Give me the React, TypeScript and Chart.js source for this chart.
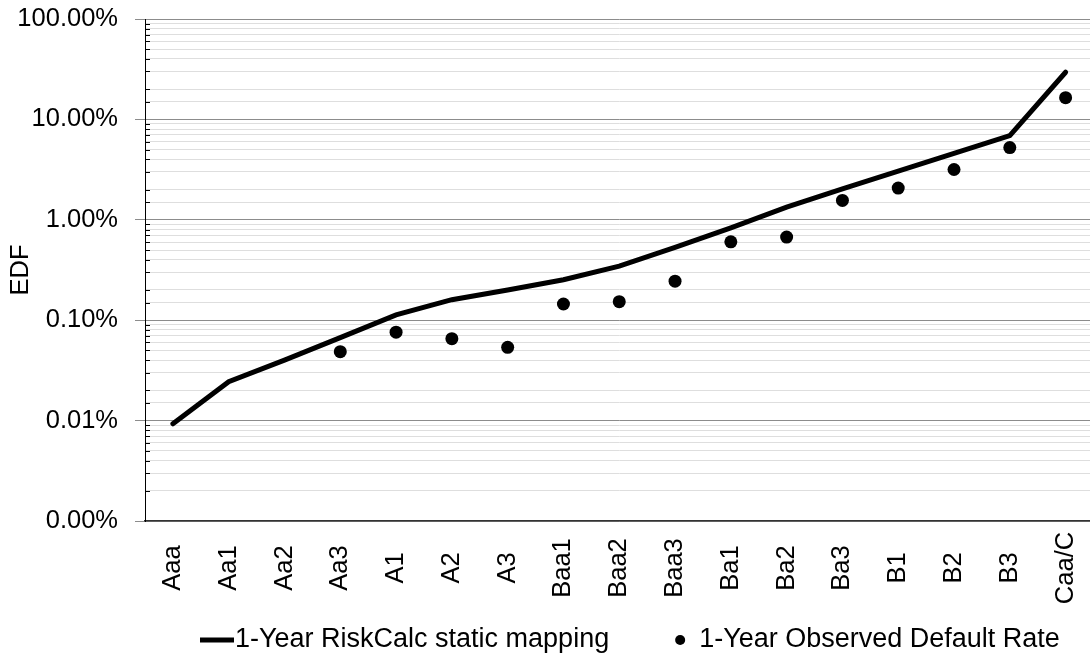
import React, { useEffect, useRef } from 'react';
import { Chart, registerables } from 'chart.js';

Chart.register(...registerables);

const categories = ['Aaa', 'Aa1', 'Aa2', 'Aa3', 'A1', 'A2', 'A3', 'Baa1', 'Baa2', 'Baa3', 'Ba1', 'Ba2', 'Ba3', 'B1', 'B2', 'B3', 'Caa/C'];
// values in percent
const staticMapping = [0.0093, 0.0244, 0.04, 0.067, 0.113, 0.16, 0.2, 0.253, 0.345, 0.53, 0.83, 1.34, 2.03, 3.05, 4.6, 6.9, 29.5];
const observedDefault = [null, null, null, 0.0486, 0.076, 0.0655, 0.0537, 0.145, 0.153, 0.245, 0.604, 0.673, 1.56, 2.07, 3.17, 5.24, 16.45];
const seriesNames = ['1-Year RiskCalc static mapping', '1-Year Observed Default Rate'];
const yTitle = 'EDF';
const yMin = 0.001;
const yMax = 100;

const FONT = "'Liberation Sans', Arial, sans-serif";
const FS = 25.5;

const isMajor = (v: number) => {
  if (v === undefined || v === null || v <= 0) return false;
  const l = Math.log10(v);
  return Math.abs(l - Math.round(l)) < 1e-6;
};

const decorPlugin = {
  id: 'decor',
  afterDraw(chart: any) {
    const { ctx, chartArea, scales } = chart;
    const xs = scales.x;
    const ys = scales.y;
    ctx.save();
    // minor tick marks inside the plot
    ctx.strokeStyle = '#000';
    ctx.lineWidth = 1;
    ys.ticks.forEach((t: any) => {
      if (!isMajor(t.value)) {
        const y = Math.round(ys.getPixelForValue(t.value)) + 0.5;
        ctx.beginPath();
        ctx.moveTo(chartArea.left, y);
        ctx.lineTo(chartArea.left + 5, y);
        ctx.stroke();
      }
    });
    // rotated category labels, centred
    ctx.fillStyle = '#000';
    ctx.font = `${FS}px ${FONT}`;
    ctx.textAlign = 'center';
    ctx.textBaseline = 'middle';
    categories.forEach((c, i) => {
      const x = xs.getPixelForValue(i);
      ctx.save();
      ctx.translate(x, chartArea.bottom + 47);
      ctx.rotate(-Math.PI / 2);
      ctx.fillText(c, 0, 0);
      ctx.restore();
    });
    // legend
    const ly = 640;
    ctx.font = `27px ${FONT}`;
    ctx.textAlign = 'left';
    ctx.lineWidth = 5;
    ctx.beginPath();
    ctx.moveTo(200, ly);
    ctx.lineTo(234, ly);
    ctx.stroke();
    ctx.fillText(seriesNames[0], 235, ly);
    const w1 = ctx.measureText(seriesNames[0]).width;
    const dotX = 235 + w1 + 71;
    ctx.beginPath();
    ctx.arc(dotX, ly, 5, 0, Math.PI * 2);
    ctx.fill();
    ctx.fillText(seriesNames[1], dotX + 19, ly);
    ctx.restore();
  },
};

export default function App() {
  const ref = useRef<HTMLCanvasElement>(null);
  useEffect(() => {
    document.documentElement.style.overflow = 'hidden';
    document.body.style.overflow = 'hidden';
    const chart = new Chart(ref.current as HTMLCanvasElement, {
      type: 'line',
      data: {
        labels: categories,
        datasets: [
          {
            label: seriesNames[0],
            data: staticMapping,
            borderColor: '#000',
            backgroundColor: '#000',
            borderWidth: 5,
            borderCapStyle: 'round',
            pointRadius: 0,
            tension: 0,
            fill: false,
          },
          {
            label: seriesNames[1],
            data: observedDefault as any,
            showLine: false,
            borderColor: '#000',
            backgroundColor: '#000',
            pointBackgroundColor: '#000',
            pointBorderWidth: 0,
            pointRadius: 6.5,
            fill: false,
          },
        ],
      },
      options: {
        animation: false,
        responsive: true,
        maintainAspectRatio: false,
        layout: { padding: { top: 19, right: 1, left: 0, bottom: 0 } },
        plugins: { legend: { display: false }, tooltip: { enabled: false } },
        scales: {
          x: {
            type: 'category',
            offset: true,
            grid: { display: false, drawTicks: false },
            border: { display: true, color: '#333', width: 1.5 },
            ticks: { display: false },
            afterFit: (s: any) => {
              s.height = 140;
              s.paddingLeft = 0;
              s.paddingRight = 0;
            },
          },
          y: {
            type: 'logarithmic',
            min: yMin,
            max: yMax,
            afterFit: (s: any) => {
              s.width = 145;
              s.paddingTop = 0;
              s.paddingBottom = 0;
            },
            border: { color: '#000', width: 1 },
            grid: {
              color: (c: any) => (c.tick && isMajor(c.tick.value) ? '#8c8c8c' : '#dedede'),
              tickColor: (c: any) => (c.tick && isMajor(c.tick.value) ? '#8c8c8c' : 'rgba(0,0,0,0)'),
              borderDash: (c: any) => (c.tick && isMajor(c.tick.value) ? [] : [3, 2]),
              lineWidth: 1,
              tickLength: 10,
            } as any,
            ticks: {
              autoSkip: false,
              padding: 17,
              color: '#000',
              font: { family: FONT, size: FS },
              callback: (v: any) => (isMajor(Number(v)) ? Number(v).toFixed(2) + '%' : ''),
            },
            title: {
              display: true,
              text: yTitle,
              color: '#000',
              font: { family: FONT, size: FS },
              padding: { top: 6, bottom: 0 },
            },
          },
        },
      },
      plugins: [decorPlugin],
    } as any);
    return () => chart.destroy();
  }, []);
  return (
    <div style={{ position: 'absolute', left: 0, top: 0, width: 1100, height: 661, background: '#fff' }}>
      <canvas ref={ref} />
    </div>
  );
}
